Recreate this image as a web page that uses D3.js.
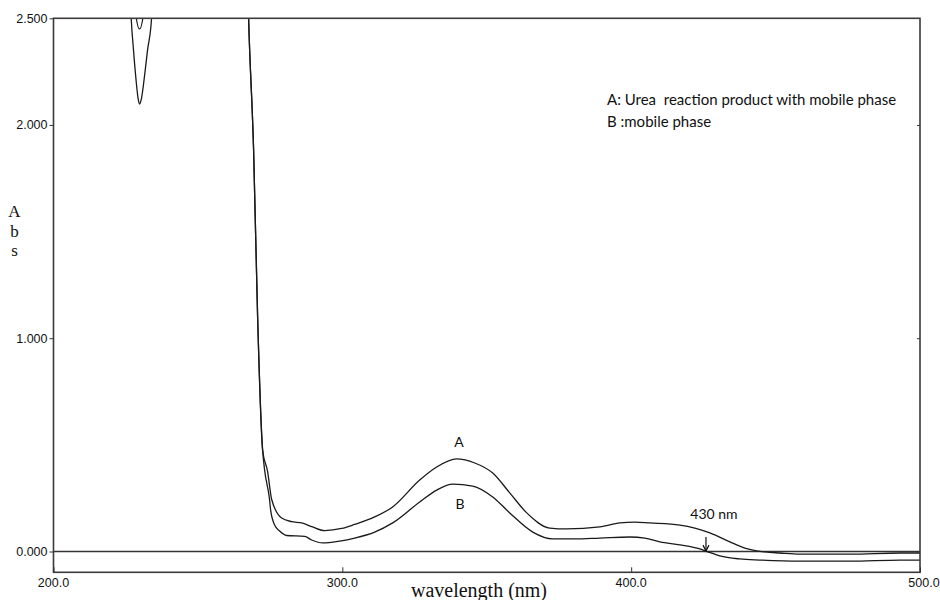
<!DOCTYPE html>
<html>
<head>
<meta charset="utf-8">
<script src="https://cdn.jsdelivr.net/npm/d3@7"></script>
<style>
  html, body { margin: 0; padding: 0; background: #fff; }
  svg { display: block; }
</style>
</head>
<body>
<svg id="chart" width="940" height="600"></svg>
<script>
// ---- Data ----
const wavelengthA = [200, 227.5, 228.2, 229.8, 231.4, 232.1, 266.8, 267.35, 267.55, 269.28, 270.67, 272.4,
  274.13, 275.52, 278.98, 282.45, 285.91, 289.38, 293.88, 299.77, 304.27, 311.2, 317.43, 326.79,
  332.67, 339.6, 345.84, 352.07, 357.96, 363.85, 371.82, 377.71, 389.14, 396.07, 401.27, 406.46,
  416.86, 422.05, 427.25, 434.18, 439.37, 446.3, 451.5, 458.43, 475.75, 493.07, 500];
const absA = [2.7, 2.7, 2.55, 2.45, 2.55, 2.7, 2.7, 2.6, 2.5, 1.882, 1.099, 0.476,
  0.375, 0.245, 0.157, 0.140, 0.134, 0.117, 0.098, 0.108, 0.127, 0.162, 0.209, 0.335,
  0.396, 0.434, 0.415, 0.368, 0.275, 0.181, 0.110, 0.106, 0.115, 0.134, 0.138, 0.134,
  0.124, 0.110, 0.087, 0.045, 0.016, -0.002, -0.007, -0.012, -0.012, -0.007, -0.007];

const wavelengthB = [200, 226.3, 226.9, 227.7, 228.58, 229.27, 229.79, 230.48, 231.35, 232.56, 233.95, 234.6,
  266.8, 267.35, 267.55, 269.28, 270.67, 272.4, 273.09, 274.83, 275.17, 276.56, 278.29, 280.71,
  286.95, 289.38, 293.19, 299.08, 304.27, 311.2, 317.43, 326.79, 332.67, 338.22, 345.15, 352.07,
  357.96, 365.93, 372.86, 380.48, 389.14, 399.53, 404.73, 409.93, 416.86, 423.78, 425.86, 430.71,
  437.64, 444.57, 458.43, 475.75, 493.07, 500];
const absB = [2.7, 2.7, 2.5, 2.351, 2.211, 2.126, 2.098, 2.126, 2.211, 2.351, 2.5, 2.7,
  2.7, 2.6, 2.5, 1.882, 1.099, 0.476, 0.382, 0.241, 0.195, 0.124, 0.096, 0.075,
  0.071, 0.054, 0.040, 0.049, 0.063, 0.091, 0.134, 0.232, 0.288, 0.316, 0.307, 0.256,
  0.181, 0.091, 0.059, 0.059, 0.063, 0.068, 0.063, 0.045, 0.031, 0.012, 0.002, -0.021,
  -0.035, -0.040, -0.045, -0.045, -0.040, -0.040];

const xTickValues = [200, 300, 400, 500];
const xTickLabels = ["200.0", "300.0", "400.0", "500.0"];
const yTickValues = [0, 1, 2, 2.5];
const yTickLabels = ["0.000", "1.000", "2.000", "2.500"];

const legendLines = ["A: Urea  reaction product with mobile phase", "B :mobile phase"];
const curveLabels = ["A", "B"];
const markerWavelength = 425.9;
const markerLabel = "430 nm";
const xTitle = "wavelength (nm)";
const yTitleLetters = ["A", "b", "s"];

// ---- Layout ----
const svg = d3.select("#chart");
const pLeft = 53.5, pRight = 920, pTop = 18.3, pBottom = 572.3;

const x = d3.scaleLinear().domain([200, 500]).range([pLeft, pRight]);
const y = d3.scaleLinear().domain([-0.0975, 2.5]).range([pBottom, pTop]);

svg.append("defs").append("clipPath").attr("id", "plotclip")
  .append("rect").attr("x", pLeft).attr("y", pTop).attr("width", pRight - pLeft).attr("height", pBottom - pTop);

// zero baseline
svg.append("line")
  .attr("x1", pLeft).attr("x2", pRight)
  .attr("y1", y(0)).attr("y2", y(0))
  .attr("stroke", "#333").attr("stroke-width", 1.3);

// curves
const line = d3.line().x(d => x(d[0])).y(d => y(d[1])).curve(d3.curveMonotoneX);
const seriesA = d3.zip(wavelengthA, absA);
const seriesB = d3.zip(wavelengthB, absB);
const g = svg.append("g").attr("clip-path", "url(#plotclip)");
[seriesA, seriesB].forEach(s => {
  g.append("path").datum(s).attr("d", line)
    .attr("fill", "none").attr("stroke", "#1a1a1a").attr("stroke-width", 1.3)
    .attr("stroke-linejoin", "round");
});

// frame
svg.append("rect")
  .attr("x", pLeft).attr("y", pTop).attr("width", pRight - pLeft).attr("height", pBottom - pTop)
  .attr("fill", "none").attr("stroke", "#3a3a3a").attr("stroke-width", 1.6);

// y axis (left, outward ticks)
const yAxis = d3.axisLeft(y).tickValues(yTickValues)
  .tickFormat((d, i) => yTickLabels[i]).tickSize(4).tickPadding(2);
const ya = svg.append("g").attr("transform", `translate(${pLeft},0)`).call(yAxis);
ya.select(".domain").remove();
ya.selectAll("line").attr("stroke", "#333");
ya.selectAll("text").attr("font-family", "'Liberation Sans', Arial, sans-serif")
  .attr("font-size", 12.5).attr("fill", "#111");

// right-side small ticks
const yAxisR = d3.axisLeft(y).tickValues([0, 1, 2]).tickFormat("").tickSize(3);
const yr = svg.append("g").attr("transform", `translate(${pRight},0)`).call(yAxisR);
yr.select(".domain").remove();
yr.selectAll("line").attr("stroke", "#333");

// x axis (bottom, inward ticks)
const xAxis = d3.axisTop(x).tickValues(xTickValues)
  .tickFormat("").tickSize(5);
const xa = svg.append("g").attr("transform", `translate(0,${pBottom})`).call(xAxis);
xa.select(".domain").remove();
xa.selectAll("line").attr("stroke", "#333");
svg.append("g").selectAll("text").data(xTickValues).join("text")
  .attr("x", (d, i) => x(d) + (i === xTickValues.length - 1 ? 4 : 0))
  .attr("y", 587)
  .attr("text-anchor", "middle")
  .attr("font-family", "'Liberation Sans', Arial, sans-serif")
  .attr("font-size", 12.5).attr("fill", "#111")
  .text((d, i) => xTickLabels[i]);

// axis titles
svg.append("text").attr("x", 479).attr("y", 597).attr("text-anchor", "middle")
  .attr("font-family", "'Liberation Serif', 'Times New Roman', serif")
  .attr("font-size", 20).attr("fill", "#111").text(xTitle);
svg.append("g").selectAll("text").data(yTitleLetters).join("text")
  .attr("x", 14.5).attr("y", (d, i) => [217, 236.5, 256][i])
  .attr("text-anchor", "middle")
  .attr("font-family", "'Liberation Serif', 'Times New Roman', serif")
  .attr("font-size", 17).attr("fill", "#111").text(d => d);

// legend text
svg.append("g").selectAll("text").data(legendLines).join("text")
  .attr("x", 607).attr("y", (d, i) => [105, 127][i])
  .attr("font-family", "Lato, 'Open Sans', sans-serif")
  .attr("font-size", 15).attr("fill", "#111")
  .style("white-space", "pre").attr("xml:space", "preserve")
  .text(d => d);

// curve labels A / B
svg.append("text").attr("x", 459).attr("y", 447).attr("text-anchor", "middle")
  .attr("font-family", "Lato, 'Open Sans', sans-serif").attr("font-size", 14).attr("fill", "#111")
  .text(curveLabels[0]);
svg.append("text").attr("x", 460).attr("y", 509).attr("text-anchor", "middle")
  .attr("font-family", "Lato, 'Open Sans', sans-serif").attr("font-size", 14).attr("fill", "#111")
  .text(curveLabels[1]);

// 430 nm marker
const mx = x(markerWavelength);
svg.append("line").attr("x1", mx).attr("x2", mx).attr("y1", y(0.068)).attr("y2", y(0.004))
  .attr("stroke", "#111").attr("stroke-width", 1.2);
svg.append("path")
  .attr("d", `M${mx - 3},${y(0.03)} L${mx},${y(0.002)} L${mx + 3},${y(0.03)}`)
  .attr("fill", "none").attr("stroke", "#111").attr("stroke-width", 1.2);
svg.append("text").attr("x", mx + 8).attr("y", 519).attr("text-anchor", "middle")
  .attr("font-family", "Lato, 'Open Sans', sans-serif").attr("font-size", 14).attr("fill", "#111")
  .text(markerLabel);
</script>
</body>
</html>
